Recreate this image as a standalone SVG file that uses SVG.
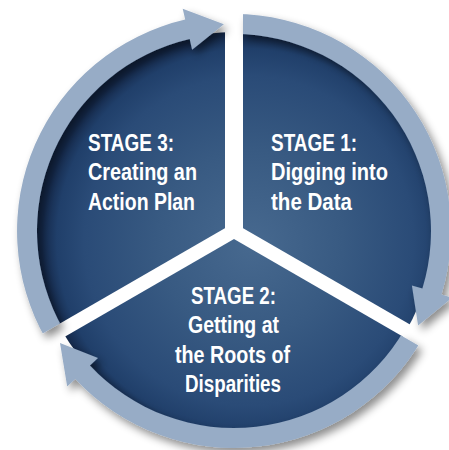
<svg xmlns="http://www.w3.org/2000/svg" width="449" height="450" viewBox="0 0 449 450">
  <defs>
    <radialGradient id="disc" gradientUnits="userSpaceOnUse" cx="248" cy="240" r="206" fx="252" fy="244">
      <stop offset="0" stop-color="#47698f"/>
      <stop offset="0.45" stop-color="#385a82"/>
      <stop offset="0.8" stop-color="#2a4b77"/>
      <stop offset="0.93" stop-color="#203f6a"/>
      <stop offset="1" stop-color="#142849"/>
    </radialGradient>
    <filter id="shadow" filterUnits="userSpaceOnUse" x="-20" y="-20" width="500" height="500">
      <feGaussianBlur in="SourceAlpha" stdDeviation="4"/>
      <feOffset dx="4" dy="5" result="b"/>
      <feFlood flood-color="#000" flood-opacity="0.45"/>
      <feComposite in2="b" operator="in"/>
      <feMerge>
        <feMergeNode/>
        <feMergeNode in="SourceGraphic"/>
      </feMerge>
    </filter>
    <mask id="gaps" maskUnits="userSpaceOnUse" x="-20" y="-20" width="500" height="500">
      <rect x="-20" y="-20" width="500" height="500" fill="#fff"/>
      <g transform="translate(234 231)" fill="#000">
        <rect x="-9" y="-260" width="18" height="260"/>
        <rect x="-7" y="-260" width="14" height="260" transform="rotate(120)"/>
        <rect x="-7" y="-260" width="14" height="260" transform="rotate(240)"/>
      </g>
    </mask>
    <style>
      .sector { fill: url(#disc); }
      .arrow { fill: #97acc6; }
      .label { fill: #ffffff; font-family: "Liberation Sans", Arial, sans-serif; font-weight: bold; font-size: 23px; }
    </style>
  </defs>

  <rect x="0" y="0" width="449" height="450" fill="#ffffff"/>

  <g mask="url(#gaps)">
    <g id="stage1">
      <path class="sector" d="M234 231 L234 32 A199 199 0 0 1 406.3 330.5 Z"/>
    </g>
    <g id="stage2">
      <path class="sector" d="M234 231 L406.3 330.5 A199 199 0 0 1 61.7 330.5 Z"/>
    </g>
    <g id="stage3">
      <path class="sector" d="M234 231 L61.7 330.5 A199 199 0 0 1 234 32 Z"/>
    </g>
  </g>

  <g id="connectors" filter="url(#shadow)">
    <g mask="url(#gaps)">
      <path class="arrow" d="M234 14 A217 217 0 0 1 441.5 294.4 L452.0 297.7 L418.1 325.6 L411.9 285.4 L422.4 288.6 A197 197 0 0 0 234 34 Z"/>
      <path class="arrow" d="M421.9 339.5 A217 217 0 0 1 75.3 379.0 L67.2 386.5 L60.0 343.1 L98.0 357.9 L89.9 365.4 A197 197 0 0 0 404.6 329.5 Z"/>
      <path class="arrow" d="M46.1 339.5 A217 217 0 0 1 185.2 19.6 L182.7 8.8 L223.9 24.2 L192.1 49.8 L189.7 39.0 A197 197 0 0 0 63.4 329.5 Z"/>
    </g>
  </g>

  <g id="stage1-label">
    <text class="label" x="271" y="151" textLength="86" lengthAdjust="spacingAndGlyphs">STAGE 1:</text>
    <text class="label" x="271" y="180" textLength="117" lengthAdjust="spacingAndGlyphs">Digging into</text>
    <text class="label" x="271" y="210" textLength="81" lengthAdjust="spacingAndGlyphs">the Data</text>
  </g>
  <g id="stage2-label">
    <text class="label" x="191" y="304" textLength="85" lengthAdjust="spacingAndGlyphs">STAGE 2:</text>
    <text class="label" x="188" y="333" textLength="91" lengthAdjust="spacingAndGlyphs">Getting at</text>
    <text class="label" x="175" y="363" textLength="115" lengthAdjust="spacingAndGlyphs">the Roots of</text>
    <text class="label" x="185" y="392" textLength="96" lengthAdjust="spacingAndGlyphs">Disparities</text>
  </g>
  <g id="stage3-label">
    <text class="label" x="88" y="151" textLength="86" lengthAdjust="spacingAndGlyphs">STAGE 3:</text>
    <text class="label" x="88" y="180" textLength="109" lengthAdjust="spacingAndGlyphs">Creating an</text>
    <text class="label" x="88" y="210" textLength="107" lengthAdjust="spacingAndGlyphs">Action Plan</text>
  </g>
</svg>
